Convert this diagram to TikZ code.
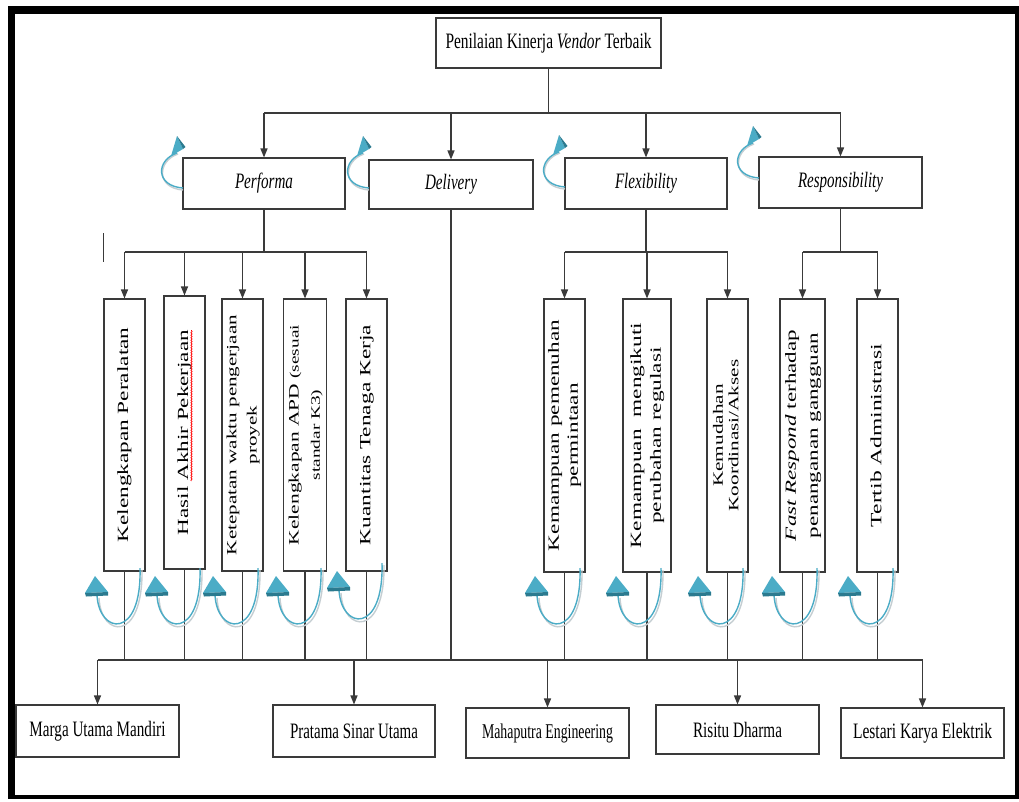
\documentclass[tikz,border=0pt]{standalone}
\usepackage{fontspec}
\setmainfont{Liberation Serif}
\usepackage{graphicx}
\usetikzlibrary{arrows.meta,decorations.pathmorphing}

\definecolor{tealc}{HTML}{4BACC6}
\definecolor{tealdk}{HTML}{2B7A8F}
\definecolor{shadc}{HTML}{C5CED2}
\definecolor{lnc}{HTML}{3A3A3A}

% horizontal text: target width, font size, content (horizontally condensed)
\newcommand\hx[3]{\resizebox{#1pt}{\height}{\fontsize{#2}{#2}\selectfont #3}}
% vertical text: target length, baselineskip, content
\newcommand\vx[3]{\scalebox{1}[0.67]{\resizebox{#1pt}{!}{\fontsize{10}{#2}\selectfont\begin{tabular}{@{}c@{}}#3\end{tabular}}}}

\newcommand\myCurlDown[2]{%
\begin{scope}[shift={(#1,#2)}]
\draw[shadc, line width=1.4pt] (-3,570) .. controls (-2,643) and (-44,638) .. (-46,598);
\draw[tealc, line width=1.4pt] (-5,568) .. controls (-3,640) and (-46,635) .. (-48,595);
\fill[tealc] (-50,576) -- (-60,593) -- (-37,592) -- cycle;
\fill[tealdk] (-60,593) -- (-37,592) -- (-37,595.5) -- (-59,596.5) -- cycle;
\end{scope}}

\newcommand\myCurlUp[2]{%
\begin{scope}[shift={(#1,#2)}]
\draw[shadc, line width=1.4pt] (0,2) .. controls (-27,0) and (-26,-27) .. (-5,-34);
\draw[tealc, line width=1.4pt] (0,0) .. controls (-28,-2) and (-27,-28) .. (-6,-35);
\fill[tealc] (-6,-52) -- (-12,-32) -- (0,-39) -- cycle;
\fill[tealdk] (-6,-52) -- (0,-39) -- (2.5,-41) -- cycle;
\end{scope}}

\tikzset{
  box/.style={draw=lnc, line width=1.1pt, inner sep=0pt, fill=white},
  vbox/.style={box, rotate=90, minimum height=41pt},
  ln/.style={draw=lnc, line width=1.3pt},
  arr/.style={ln, -{Triangle[length=9pt,width=7pt]}},
}

\begin{document}
\begin{tikzpicture}[x=1pt,y=-1pt]
\useasboundingbox (0,0) rectangle (1019,801);
\fill[white] (0,0) rectangle (1019,801);
% outer frame
\fill[black] (8,6) rectangle (15,799);
\fill[black] (8,6) rectangle (1019,14);
\fill[black] (1015,6) rectangle (1019,799);
\fill[black] (8,795) rectangle (1019,799);

% top
\node[box, minimum width=225pt, minimum height=50pt] (top) at (548.5,43) {\hx{206}{22}{Penilaian Kinerja \textit{Vendor} Terbaik}};

% criteria
\node[box, minimum width=162pt, minimum height=51pt] (perf) at (264,183.5) {\hx{58}{22}{\itshape Performa}};
\node[box, minimum width=164pt, minimum height=49pt] (deliv) at (451,184.5) {\hx{52}{22}{\itshape Delivery}};
\node[box, minimum width=162pt, minimum height=51pt] (flex) at (646,183.5) {\hx{62}{22}{\itshape Flexibility}};
\node[box, minimum width=163pt, minimum height=51pt] (resp) at (840.5,182.5) {\hx{85}{22}{\itshape Responsibility}};

% sub criteria
\node[vbox, minimum width=272pt] (v1) at (124.5,435) {\vx{215}{12}{Kelengkapan Peralatan}};
\node[vbox, minimum width=273pt] (v2) at (184.5,432.5) {\vx{205}{12}{Hasil Akhir Pekerjaan}};
\node[vbox, minimum width=272pt] (v3) at (242.5,435) {\vx{240}{14.2}{Ketepatan waktu pengerjaan\\proyek}};
\node[vbox, minimum width=272pt, minimum height=42pt] (v4) at (305,435) {\vx{220}{14.7}{Kelengkapan APD {\fontsize{9}{10}\selectfont(sesuai}\\{\fontsize{9}{10}\selectfont standar K3)}}};
\node[vbox, minimum width=272pt] (v5) at (366.5,435) {\vx{220}{12}{Kuantitas Tenaga Kerja}};
\node[vbox, minimum width=273pt] (v6) at (564.5,435.5) {\vx{231}{12.2}{Kemampuan pemenuhan\\permintaan}};
\node[vbox, minimum width=273pt, minimum height=48pt] (v7) at (647,435.5) {\vx{225}{12.8}{Kemampuan\ \ mengikuti\\perubahan regulasi}};
\node[vbox, minimum width=273pt] (v8) at (727.5,435.5) {\vx{152}{11}{Kemudahan\\Koordinasi/Akses}};
\node[vbox, minimum width=273pt, minimum height=45pt] (v9) at (802.5,435.5) {\vx{211}{14.3}{\textit{Fast Respond} terhadap\\penanganan gangguan}};
\node[vbox, minimum width=273pt] (v10) at (877.5,435.5) {\vx{183}{12}{Tertib Administrasi}};

% vendors
\node[box, minimum width=163pt, minimum height=52pt] (m1) at (97.5,731) {\hx{136}{22}{Marga Utama Mandiri}};
\node[box, minimum width=162pt, minimum height=52pt] (m2) at (354,731) {\hx{128}{22}{Pratama Sinar Utama}};
\node[box, minimum width=163pt, minimum height=50pt] (m3) at (547.5,733) {\hx{131}{21}{Mahaputra Engineering}};
\node[box, minimum width=163pt, minimum height=49pt] (m4) at (737.5,729.5) {\hx{89}{22}{Risitu Dharma}};
\node[box, minimum width=163pt, minimum height=50pt] (m5) at (922.5,733) {\hx{139}{22}{Lestari Karya Elektrik}};

% connectors: top level
\coordinate (j0) at (548.5,113);
\draw[ln] (top) -- (j0);
\draw[ln] (perf |- j0) -- (resp |- j0);
\foreach \n in {perf,deliv,flex,resp} \draw[arr] (\n |- j0) -- (\n);

% performa
\coordinate (jp) at (264,252);
\draw[ln] (perf) -- (jp);
\draw[ln] (v1 |- jp) -- (v5 |- jp);
\foreach \i in {1,...,5} \draw[arr] (v\i |- jp) -- (v\i);

% flexibility
\coordinate (jf) at (646,252);
\draw[ln] (flex) -- (jf);
\draw[ln] (v6 |- jf) -- (v8 |- jf);
\foreach \i in {6,7,8} \draw[arr] (v\i |- jf) -- (v\i);

% responsibility
\coordinate (jr) at (840.5,252);
\draw[ln] (resp) -- (jr);
\draw[ln] (v9 |- jr) -- (v10 |- jr);
\foreach \i in {9,10} \draw[arr] (v\i |- jr) -- (v\i);

% bottom bus
\coordinate (jb) at (451,660);
\draw[ln] (deliv) -- (jb);
\foreach \i in {1,...,10} \draw[ln] (v\i) -- (v\i |- jb);
\draw[ln] (m1 |- jb) -- (m5 |- jb);
\foreach \i in {1,...,5} \draw[arr] (m\i |- jb) -- (m\i);

% stray mark
\draw[lnc, line width=1pt] (103,233) -- (103,262);

% spell-check squiggle
\draw[red, line width=0.6pt, decorate, decoration={snake, amplitude=0.7pt, segment length=2.5pt}] (191.5,481) -- (191.5,330);

% curved arrows
\myCurlUp{183}{188}
\myCurlUp{369}{188}
\myCurlUp{565}{187}
\myCurlUp{759}{178}

\myCurlDown{145}{0}
\myCurlDown{205}{0}
\myCurlDown{263}{0}
\myCurlDown{326}{0}
\myCurlDown{387}{-5}
\myCurlDown{585}{0}
\myCurlDown{666}{0}
\myCurlDown{748}{0}
\myCurlDown{822}{0}
\myCurlDown{898}{0}
\end{tikzpicture}
\end{document}
